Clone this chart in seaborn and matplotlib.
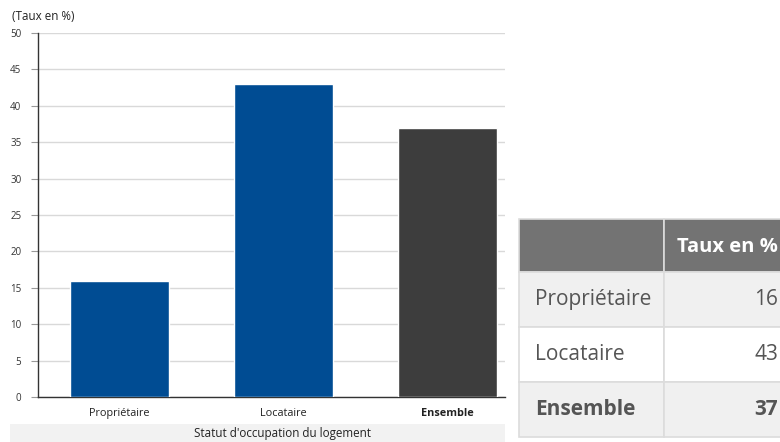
import matplotlib
matplotlib.use("Agg")
import matplotlib.pyplot as plt
from matplotlib.patches import Rectangle
import seaborn as sns
import pandas as pd

# data
categories = ["Propriétaire", "Locataire", "Ensemble"]
taux = [16, 43, 37]
bar_colors = ["#004c93", "#004c93", "#3d3d3d"]
y_ticks = [0, 5, 10, 15, 20, 25, 30, 35, 40, 45, 50]

df = pd.DataFrame({"statut": categories, "taux": taux})

sns.set_theme(style="white")
plt.rcParams["font.family"] = ["Open Sans", "DejaVu Sans"]

W, H = 780, 442
fig = plt.figure(figsize=(7.8, 4.42), dpi=100)

def fx(px):
    return px / W

def fy(py):
    return 1 - py / H

# gray band behind the x-axis title
fig.patches.append(Rectangle((fx(10), fy(442)), fx(495), 18 / H,
                             transform=fig.transFigure, facecolor="#f2f2f2",
                             edgecolor="none", zorder=0))

ax = fig.add_axes([fx(38), fy(397), fx(505 - 38), (397 - 33) / H])
ax.set_facecolor("none")
sns.barplot(data=df, x="statut", y="taux", hue="statut", palette=bar_colors,
            legend=False, width=0.6, saturation=1, ax=ax, zorder=3)

ax.set_ylim(0, 50)
ax.set_xlim(-0.497, 2.35)
ax.set_yticks(y_ticks)
ax.set_yticklabels([str(t) for t in y_ticks], fontsize=7, color="#333333")
ax.yaxis.grid(True, color="#d9d9d9", linewidth=1, zorder=0)
ax.set_axisbelow(True)
ax.tick_params(axis="y", length=5, width=0.8, color="#999999", pad=7, left=True)
ax.tick_params(axis="x", length=0, pad=8)
for lbl in ax.get_xticklabels():
    lbl.set_fontsize(7.8)
    lbl.set_color("#222222")
    if lbl.get_text() == "Ensemble":
        lbl.set_fontweight("bold")
for side in ["top", "right"]:
    ax.spines[side].set_visible(False)
ax.spines["left"].set_color("#333333")
ax.spines["left"].set_linewidth(1)
ax.spines["bottom"].set_color("#333333")
ax.spines["bottom"].set_linewidth(1)
ax.set_xlabel("")
ax.set_ylabel("")

fig.text(fx(12), fy(17), "(Taux en %)", fontsize=8.4, color="#222222",
         va="center", ha="left")
fig.text(fx(283), fy(433), "Statut d'occupation du logement", fontsize=8.4,
         color="#222222", va="center", ha="center")

# table on the right
col_x = [519, 664, 790]
row_y = [219, 272, 327, 382, 437]
border = "#dcdcdc"
header_bg = "#737373"

def cell(x0, x1, y0, y1, color):
    fig.patches.append(Rectangle((fx(x0), fy(y1)), fx(x1 - x0), (y1 - y0) / H,
                                 transform=fig.transFigure, facecolor=color,
                                 edgecolor=border, linewidth=1.2, zorder=1))

cell(col_x[0], col_x[1], row_y[0], row_y[1], header_bg)
cell(col_x[1], col_x[2], row_y[0], row_y[1], header_bg)
fig.text(fx(778), fy((row_y[0] + row_y[1]) / 2 + 2), "Taux en %", fontsize=14.5,
         fontweight="bold", color="white", ha="right", va="center")

for i, (cat, val) in enumerate(zip(categories, taux)):
    y0, y1 = row_y[i + 1], row_y[i + 2]
    bg = "white" if i % 2 == 1 else "#f0f0f0"
    cell(col_x[0], col_x[1], y0, y1, bg)
    cell(col_x[1], col_x[2], y0, y1, bg)
    weight = "bold" if cat == "Ensemble" else "normal"
    ym = fy((y0 + y1) / 2)
    fig.text(fx(535), ym, cat, fontsize=15, fontweight=weight, color="#555555",
             ha="left", va="center")
    fig.text(fx(778), ym, str(val), fontsize=15, fontweight=weight,
             color="#555555", ha="right", va="center")

fig.savefig("out.png", dpi=100)
